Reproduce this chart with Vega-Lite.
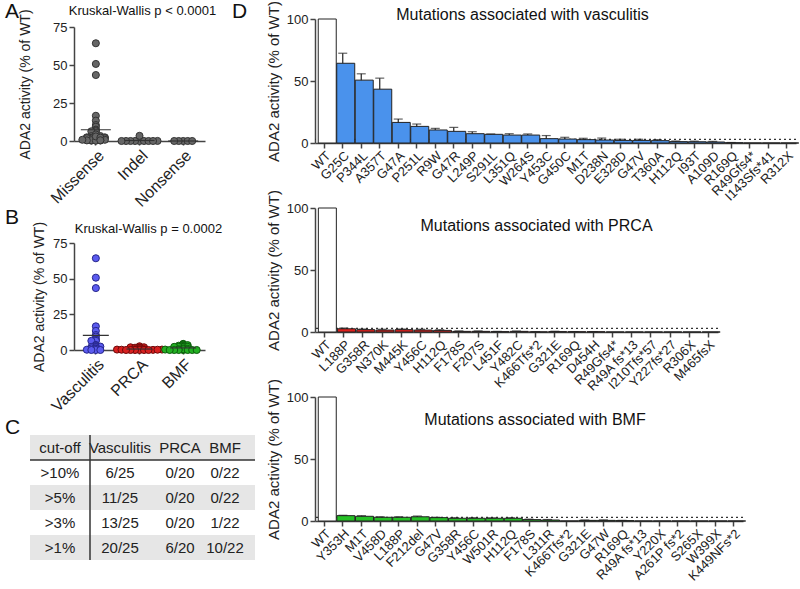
{
  "$schema": "https://vega.github.io/schema/vega-lite/v6.json",
  "padding": {"left": 5, "top": 0, "right": 0, "bottom": 0},
  "background": "white",
  "datasets": {
    "mut": [
      {"g": "Vasculitis", "m": "WT", "v": 100, "hi": null, "t": "WT"},
      {"g": "Vasculitis", "m": "G25C", "v": 64.3, "hi": 72.4, "t": "Missense"},
      {"g": "Vasculitis", "m": "P344L", "v": 50.7, "hi": 55.8, "t": "Missense"},
      {"g": "Vasculitis", "m": "A357T", "v": 43.4, "hi": 52.3, "t": "Missense"},
      {"g": "Vasculitis", "m": "G47A", "v": 16.6, "hi": 19.3, "t": "Missense"},
      {"g": "Vasculitis", "m": "P251L", "v": 13.4, "hi": 15.3, "t": "Missense"},
      {"g": "Vasculitis", "m": "R9W", "v": 10.5, "hi": 11.8, "t": "Missense"},
      {"g": "Vasculitis", "m": "G47R", "v": 9.4, "hi": 12.6, "t": "Missense"},
      {"g": "Vasculitis", "m": "L249P", "v": 7.5, "hi": 9.1, "t": "Missense"},
      {"g": "Vasculitis", "m": "S291L", "v": 7.0, "hi": 7.3, "t": "Missense"},
      {"g": "Vasculitis", "m": "L351Q", "v": 6.4, "hi": 7.5, "t": "Missense"},
      {"g": "Vasculitis", "m": "W264S", "v": 6.4, "hi": 7.3, "t": "Missense"},
      {"g": "Vasculitis", "m": "Y453C", "v": 3.5, "hi": 6.0, "t": "Missense"},
      {"g": "Vasculitis", "m": "G450C", "v": 3.2, "hi": 4.6, "t": "Missense"},
      {"g": "Vasculitis", "m": "M1T", "v": 2.7, "hi": 3.8, "t": "Missense"},
      {"g": "Vasculitis", "m": "D238N", "v": 2.4, "hi": 4.0, "t": "Missense"},
      {"g": "Vasculitis", "m": "E328D", "v": 2.1, "hi": 3.0, "t": "Missense"},
      {"g": "Vasculitis", "m": "G47V", "v": 2.1, "hi": 3.0, "t": "Missense"},
      {"g": "Vasculitis", "m": "T360A", "v": 1.9, "hi": 2.7, "t": "Missense"},
      {"g": "Vasculitis", "m": "H112Q", "v": 1.1, "hi": 1.6, "t": "Missense"},
      {"g": "Vasculitis", "m": "I93T", "v": 1.0, "hi": 1.5, "t": "Missense"},
      {"g": "Vasculitis", "m": "A109D", "v": 0.8, "hi": 1.3, "t": "Missense"},
      {"g": "Vasculitis", "m": "R169Q", "v": 0.2, "hi": 0.4, "t": "Missense"},
      {"g": "Vasculitis", "m": "R49Gfs4*", "v": 0, "hi": null, "t": "Indel"},
      {"g": "Vasculitis", "m": "I143Sfs*41", "v": 0, "hi": null, "t": "Indel"},
      {"g": "Vasculitis", "m": "R312X", "v": 0, "hi": null, "t": "Nonsense"},
      {"g": "PRCA", "m": "WT", "v": 100, "hi": null, "t": "WT"},
      {"g": "PRCA", "m": "L188P", "v": 2.6, "hi": 3.2, "t": "Missense"},
      {"g": "PRCA", "m": "G358R", "v": 1.9, "hi": 2.4, "t": "Missense"},
      {"g": "PRCA", "m": "N370K", "v": 1.6, "hi": 2.2, "t": "Missense"},
      {"g": "PRCA", "m": "M445K", "v": 1.9, "hi": 2.4, "t": "Missense"},
      {"g": "PRCA", "m": "Y456C", "v": 1.6, "hi": 2.2, "t": "Missense"},
      {"g": "PRCA", "m": "H112Q", "v": 1.3, "hi": 1.8, "t": "Missense"},
      {"g": "PRCA", "m": "F178S", "v": 0.5, "hi": 0.9, "t": "Missense"},
      {"g": "PRCA", "m": "F207S", "v": 0.5, "hi": 0.9, "t": "Missense"},
      {"g": "PRCA", "m": "L451F", "v": 0.3, "hi": 0.5, "t": "Missense"},
      {"g": "PRCA", "m": "Y482C", "v": 0.5, "hi": 0.8, "t": "Missense"},
      {"g": "PRCA", "m": "K466Tfs*2", "v": 0.1, "hi": 0.3, "t": "Indel"},
      {"g": "PRCA", "m": "G321E", "v": 0.3, "hi": 0.6, "t": "Missense"},
      {"g": "PRCA", "m": "R169Q", "v": 0.2, "hi": 0.4, "t": "Missense"},
      {"g": "PRCA", "m": "D454H", "v": 0.2, "hi": 0.3, "t": "Missense"},
      {"g": "PRCA", "m": "R49Gfs4*", "v": 0, "hi": null, "t": "Indel"},
      {"g": "PRCA", "m": "R49A fs*13", "v": 0, "hi": null, "t": "Indel"},
      {"g": "PRCA", "m": "I210Tfs*57", "v": 0, "hi": null, "t": "Indel"},
      {"g": "PRCA", "m": "Y227fs*27", "v": 0, "hi": null, "t": "Indel"},
      {"g": "PRCA", "m": "R306X", "v": 0, "hi": null, "t": "Nonsense"},
      {"g": "PRCA", "m": "M465fsX", "v": 0, "hi": null, "t": "Indel"},
      {"g": "BMF", "m": "WT", "v": 100, "hi": null, "t": "WT"},
      {"g": "BMF", "m": "Y353H", "v": 4.3, "hi": 4.6, "t": "Missense"},
      {"g": "BMF", "m": "M1T", "v": 3.8, "hi": 4.3, "t": "Missense"},
      {"g": "BMF", "m": "V458D", "v": 3.0, "hi": 3.4, "t": "Missense"},
      {"g": "BMF", "m": "L188P", "v": 3.0, "hi": 3.4, "t": "Missense"},
      {"g": "BMF", "m": "F212del", "v": 3.4, "hi": 4.0, "t": "Indel"},
      {"g": "BMF", "m": "G47V", "v": 2.7, "hi": 3.0, "t": "Missense"},
      {"g": "BMF", "m": "G358R", "v": 2.2, "hi": 2.6, "t": "Missense"},
      {"g": "BMF", "m": "Y456C", "v": 2.2, "hi": 2.6, "t": "Missense"},
      {"g": "BMF", "m": "W501R", "v": 2.2, "hi": 2.5, "t": "Missense"},
      {"g": "BMF", "m": "H112Q", "v": 2.2, "hi": 2.6, "t": "Missense"},
      {"g": "BMF", "m": "F178S", "v": 1.1, "hi": 1.5, "t": "Missense"},
      {"g": "BMF", "m": "L311R", "v": 0.8, "hi": 1.2, "t": "Missense"},
      {"g": "BMF", "m": "K466Tfs*2", "v": 0, "hi": null, "t": "Indel"},
      {"g": "BMF", "m": "G321E", "v": 0.5, "hi": 0.8, "t": "Missense"},
      {"g": "BMF", "m": "G47W", "v": 0.5, "hi": 0.9, "t": "Missense"},
      {"g": "BMF", "m": "R169Q", "v": 0.3, "hi": 0.5, "t": "Missense"},
      {"g": "BMF", "m": "R49A fs*13", "v": 0, "hi": null, "t": "Indel"},
      {"g": "BMF", "m": "Y220X", "v": 0, "hi": null, "t": "Nonsense"},
      {"g": "BMF", "m": "A261P fs*2", "v": 0, "hi": null, "t": "Indel"},
      {"g": "BMF", "m": "S265X", "v": 0, "hi": null, "t": "Nonsense"},
      {"g": "BMF", "m": "W399X", "v": 0, "hi": null, "t": "Nonsense"},
      {"g": "BMF", "m": "K449NFs*2", "v": 0, "hi": null, "t": "Indel"}
    ],
    "tbl": [
      {"row": "header", "col": "cut-off", "txt": "cut-off"},
      {"row": "header", "col": "Vasculitis", "txt": "Vasculitis"},
      {"row": "header", "col": "PRCA", "txt": "PRCA"},
      {"row": "header", "col": "BMF", "txt": "BMF"},
      {"row": ">10%", "col": "cut-off", "txt": ">10%"},
      {"row": ">10%", "col": "Vasculitis", "txt": "6/25"},
      {"row": ">10%", "col": "PRCA", "txt": "0/20"},
      {"row": ">10%", "col": "BMF", "txt": "0/22"},
      {"row": ">5%", "col": "cut-off", "txt": ">5%"},
      {"row": ">5%", "col": "Vasculitis", "txt": "11/25"},
      {"row": ">5%", "col": "PRCA", "txt": "0/20"},
      {"row": ">5%", "col": "BMF", "txt": "0/22"},
      {"row": ">3%", "col": "cut-off", "txt": ">3%"},
      {"row": ">3%", "col": "Vasculitis", "txt": "13/25"},
      {"row": ">3%", "col": "PRCA", "txt": "0/20"},
      {"row": ">3%", "col": "BMF", "txt": "1/22"},
      {"row": ">1%", "col": "cut-off", "txt": ">1%"},
      {"row": ">1%", "col": "Vasculitis", "txt": "20/25"},
      {"row": ">1%", "col": "PRCA", "txt": "6/20"},
      {"row": ">1%", "col": "BMF", "txt": "10/22"}
    ],
    "limit": [{"v": 3}]
  },
  "hconcat": [
    {
      "vconcat": [
        {
          "width": 131, "height": 9,
          "data": {"values": []},
          "mark": "point",
          "title": {"text": "A", "anchor": "start", "frame": "group", "fontSize": 21, "dx": -69, "offset": 0, "dy": 21, "baseline": "alphabetic"}
        },
        {
          "width": 131, "height": 114,
          "data": {"name": "mut"},
          "transform": [
            {"filter": "datum.t != 'WT'"},
            {"aggregate": [{"op": "mean", "field": "v", "as": "v"}], "groupby": ["m", "t"]}
          ],
          "title": {"text": "Kruskal-Wallis p < 0.0001", "fontSize": 13, "dx": 3, "offset": 6, "dy": 25, "baseline": "alphabetic"},
          "encoding": {
            "x": {"field": "t", "type": "nominal", "scale": {"domain": ["Missense", "Indel", "Nonsense"], "paddingInner": 0, "paddingOuter": 0},
                  "axis": {"title": null, "labelAngle": -45, "labelFontSize": 16, "tickSize": 4, "labelPadding": 2}},
            "y": {"field": "v", "type": "quantitative", "scale": {"domain": [0, 75], "nice": false},
                  "axis": {"values": [0, 25, 50, 75], "title": "ADA2 activity (% of WT)", "titleFontSize": 14, "labelFontSize": 13, "tickSize": 5, "titlePadding": 20}}
          },
          "layer": [
            {
              "transform": [
                {"bin": {"step": 0.5}, "field": "v", "as": "vb"},
                {"window": [{"op": "row_number", "as": "rank"}], "groupby": ["t", "vb"], "sort": [{"field": "v"}]}
              ],
              "mark": {"type": "point", "filled": true, "size": 50, "fill": "#666666", "stroke": "#333333", "strokeWidth": 1, "opacity": 1},
              "encoding": {
                "xOffset": {"field": "rank", "type": "ordinal", "scale": {"type": "point", "domain": [10, 8, 6, 4, 2, 1, 3, 5, 7, 9, 11], "range": [-0.65, 44.35], "padding": 0}}
              }
            },
            {
              "mark": {"type": "tick", "color": "#333333", "thickness": 1.2, "size": 30},
              "encoding": {"y": {"aggregate": "mean", "field": "v", "type": "quantitative"}}
            }
          ]
        },
        {
          "width": 131, "height": 102,
          "data": {"values": []},
          "mark": "point",
          "title": {"text": "B", "anchor": "start", "frame": "group", "fontSize": 21, "dx": -69, "offset": 0, "dy": 104, "baseline": "alphabetic"}
        },
        {
          "width": 131, "height": 107,
          "data": {"name": "mut"},
          "transform": [{"filter": "datum.t != 'WT'"}],
          "title": {"text": "Kruskal-Wallis p = 0.0002", "fontSize": 13, "dx": 9, "offset": 6, "dy": 31, "baseline": "alphabetic"},
          "encoding": {
            "x": {"field": "g", "type": "nominal", "scale": {"domain": ["Vasculitis", "PRCA", "BMF"], "paddingInner": 0, "paddingOuter": 0},
                  "axis": {"title": null, "labelAngle": -45, "labelFontSize": 16, "tickSize": 4, "labelPadding": 2}},
            "y": {"field": "v", "type": "quantitative", "scale": {"domain": [0, 75], "nice": false},
                  "axis": {"values": [0, 25, 50, 75], "title": "ADA2 activity (% of WT)", "titleFontSize": 14, "labelFontSize": 13, "tickSize": 5, "titlePadding": 6}}
          },
          "layer": [
            {
              "transform": [
                {"bin": {"step": 0.5}, "field": "v", "as": "vb"},
                {"window": [{"op": "row_number", "as": "rank"}], "groupby": ["g", "vb"], "sort": [{"field": "v"}]}
              ],
              "mark": {"type": "point", "filled": true, "size": 50, "strokeWidth": 1, "opacity": 1},
              "encoding": {
                "xOffset": {"field": "rank", "type": "ordinal", "scale": {"type": "point", "domain": [10, 8, 6, 4, 2, 1, 3, 5, 7, 9, 11], "range": [-0.65, 44.35], "padding": 0}},
                "fill": {"field": "g", "type": "nominal", "scale": {"domain": ["Vasculitis", "PRCA", "BMF"], "range": ["#5b5bef", "#d81f1f", "#22b022"]}, "legend": null},
                "stroke": {"field": "g", "type": "nominal", "scale": {"domain": ["Vasculitis", "PRCA", "BMF"], "range": ["#25258a", "#6e0a0a", "#0c5a0c"]}, "legend": null}
              }
            },
            {
              "mark": {"type": "tick", "color": "#333333", "thickness": 1.2, "size": 26},
              "encoding": {"y": {"aggregate": "mean", "field": "v", "type": "quantitative"}}
            }
          ]
        },
        {
          "width": 131, "height": 85,
          "data": {"values": []},
          "mark": "point"
        },
        {
          "width": 131, "height": 125,
          "data": {"name": "tbl"},
          "title": {"text": "C", "anchor": "start", "frame": "group", "fontSize": 21, "dx": -69, "offset": 0, "dy": 21, "baseline": "alphabetic"},
          "layer": [
            {
              "transform": [{"filter": "datum.col == 'cut-off' && (datum.row == 'header' || datum.row == '>5%' || datum.row == '>1%')"}],
              "mark": {"type": "rect", "color": "#e6e6e6"},
              "encoding": {
                "x": {"datum": "start", "type": "nominal", "scale": {"type": "point", "domain": ["start", "_a", "cut-off", "_b", "|", "_c", "Vasculitis", "_d", "_e", "_f", "PRCA", "_g", "_h", "BMF", "_i", "end"], "range": [-44, 181], "padding": 0}, "axis": null},
                "x2": {"datum": "end"},
                "y": {"field": "row", "type": "nominal", "scale": {"domain": ["header", ">10%", ">5%", ">3%", ">1%"], "paddingInner": 0, "paddingOuter": 0}, "axis": null}
              }
            },
            {
              "mark": {"type": "text", "fontSize": 15, "color": "#222222"},
              "encoding": {
                "x": {"field": "col", "type": "nominal"},
                "y": {"field": "row", "type": "nominal"},
                "text": {"field": "txt"}
              }
            },
            {
              "data": {"values": [{}]},
              "mark": {"type": "rule", "color": "#333333", "strokeWidth": 1.5},
              "encoding": {
                "x": {"datum": "start", "type": "nominal"},
                "x2": {"datum": "end"},
                "y": {"datum": "header", "type": "nominal", "bandPosition": 1}
              }
            },
            {
              "data": {"values": [{}]},
              "mark": {"type": "rule", "color": "#333333", "strokeWidth": 1.5},
              "encoding": {
                "x": {"datum": "|", "type": "nominal"}
              }
            }
          ]
        }
      ],
      "spacing": 0,
      "bounds": "flush"
    },
    {
      "vconcat": [
        {
          "width": 481, "height": 1,
          "data": {"values": []},
          "mark": "point",
          "title": {"text": "D", "anchor": "start", "frame": "group", "fontSize": 21, "dx": -83, "offset": 0, "dy": 21, "baseline": "alphabetic"}
        },
        {
          "width": 481, "height": 124,
          "title": {"text": "Mutations associated with vasculitis", "fontSize": 16, "dx": -33, "offset": 0, "dy": 35, "baseline": "alphabetic"},
          "encoding": {
            "y": {"field": "v", "type": "quantitative", "scale": {"domain": [0, 100], "nice": false},
                  "axis": {"values": [0, 25, 50, 75, 100], "title": "ADA2 activity (% of WT)", "titleFontSize": 15, "labelFontSize": 13, "tickSize": 5, "titlePadding": 5}}
          },
          "layer": [
            {"data": {"name": "limit"}, "mark": {"type": "rule", "strokeDash": [2, 3], "color": "#333333", "strokeWidth": 1.2}},
            {
              "data": {"name": "mut"}, "transform": [{"filter": "datum.g == 'Vasculitis'"}],
              "mark": {"type": "bar", "stroke": "#222222", "strokeWidth": 1},
              "encoding": {
                "x": {"field": "m", "type": "nominal", "sort": null, "scale": {"paddingInner": 0.35, "paddingOuter": 0.175}, "axis": {"title": null, "labelAngle": -45, "labelFontSize": 13, "tickSize": 5, "labelPadding": 1}},
                "fill": {"condition": {"test": "datum.m == 'WT'", "value": "white"}, "value": "#4a92ec"}
              }
            },
            {
              "data": {"name": "mut"}, "transform": [{"filter": "datum.g == 'Vasculitis' && isValid(datum.hi)"}],
              "mark": {"type": "rule", "color": "#222222", "strokeWidth": 1.2},
              "encoding": {"x": {"field": "m", "type": "nominal", "sort": null}, "y2": {"field": "hi"}}
            },
            {
              "data": {"name": "mut"}, "transform": [{"filter": "datum.g == 'Vasculitis' && isValid(datum.hi)"}],
              "mark": {"type": "tick", "color": "#222222", "thickness": 1.2, "size": 9},
              "encoding": {"x": {"field": "m", "type": "nominal", "sort": null}, "y": {"field": "hi", "type": "quantitative", "axis": {"title": "ADA2 activity (% of WT)"}}}
            }
          ]
        },
        {
          "width": 481, "height": 65,
          "data": {"values": []},
          "mark": "point"
        },
        {
          "width": 403, "height": 124,
          "title": {"text": "Mutations associated with PRCA", "fontSize": 16, "dx": 20, "offset": -23, "dy": 34, "baseline": "alphabetic"},
          "encoding": {
            "y": {"field": "v", "type": "quantitative", "scale": {"domain": [0, 100], "nice": false},
                  "axis": {"values": [0, 25, 50, 75, 100], "title": "ADA2 activity (% of WT)", "titleFontSize": 15, "labelFontSize": 13, "tickSize": 5, "titlePadding": 5}}
          },
          "layer": [
            {"data": {"name": "limit"}, "mark": {"type": "rule", "strokeDash": [2, 3], "color": "#333333", "strokeWidth": 1.2}},
            {
              "data": {"name": "mut"}, "transform": [{"filter": "datum.g == 'PRCA'"}],
              "mark": {"type": "bar", "stroke": "#222222", "strokeWidth": 1},
              "encoding": {
                "x": {"field": "m", "type": "nominal", "sort": null, "scale": {"paddingInner": 0.35, "paddingOuter": 0.175}, "axis": {"title": null, "labelAngle": -45, "labelFontSize": 13, "tickSize": 5, "labelPadding": 1}},
                "fill": {"condition": {"test": "datum.m == 'WT'", "value": "white"}, "value": "#e0201c"}
              }
            },
            {
              "data": {"name": "mut"}, "transform": [{"filter": "datum.g == 'PRCA' && isValid(datum.hi)"}],
              "mark": {"type": "rule", "color": "#222222", "strokeWidth": 1.2},
              "encoding": {"x": {"field": "m", "type": "nominal", "sort": null}, "y2": {"field": "hi"}}
            },
            {
              "data": {"name": "mut"}, "transform": [{"filter": "datum.g == 'PRCA' && isValid(datum.hi)"}],
              "mark": {"type": "tick", "color": "#222222", "thickness": 1.2, "size": 9},
              "encoding": {"x": {"field": "m", "type": "nominal", "sort": null}, "y": {"field": "hi", "type": "quantitative", "axis": {"title": "ADA2 activity (% of WT)"}}}
            }
          ]
        },
        {
          "width": 403, "height": 65,
          "data": {"values": []},
          "mark": "point"
        },
        {
          "width": 428, "height": 124,
          "title": {"text": "Mutations associated with BMF", "fontSize": 16, "dx": 6, "offset": -28, "dy": 34, "baseline": "alphabetic"},
          "encoding": {
            "y": {"field": "v", "type": "quantitative", "scale": {"domain": [0, 100], "nice": false},
                  "axis": {"values": [0, 25, 50, 75, 100], "title": "ADA2 activity (% of WT)", "titleFontSize": 15, "labelFontSize": 13, "tickSize": 5, "titlePadding": 5}}
          },
          "layer": [
            {"data": {"name": "limit"}, "mark": {"type": "rule", "strokeDash": [2, 3], "color": "#333333", "strokeWidth": 1.2}},
            {
              "data": {"name": "mut"}, "transform": [{"filter": "datum.g == 'BMF'"}],
              "mark": {"type": "bar", "stroke": "#222222", "strokeWidth": 1},
              "encoding": {
                "x": {"field": "m", "type": "nominal", "sort": null, "scale": {"paddingInner": 0.35, "paddingOuter": 0.175}, "axis": {"title": null, "labelAngle": -45, "labelFontSize": 13, "tickSize": 5, "labelPadding": 1}},
                "fill": {"condition": {"test": "datum.m == 'WT'", "value": "white"}, "value": "#25c025"}
              }
            },
            {
              "data": {"name": "mut"}, "transform": [{"filter": "datum.g == 'BMF' && isValid(datum.hi)"}],
              "mark": {"type": "rule", "color": "#222222", "strokeWidth": 1.2},
              "encoding": {"x": {"field": "m", "type": "nominal", "sort": null}, "y2": {"field": "hi"}}
            },
            {
              "data": {"name": "mut"}, "transform": [{"filter": "datum.g == 'BMF' && isValid(datum.hi)"}],
              "mark": {"type": "tick", "color": "#222222", "thickness": 1.2, "size": 9},
              "encoding": {"x": {"field": "m", "type": "nominal", "sort": null}, "y": {"field": "hi", "type": "quantitative", "axis": {"title": "ADA2 activity (% of WT)"}}}
            }
          ]
        }
      ],
      "spacing": 0,
      "bounds": "flush"
    }
  ],
  "spacing": 241,
  "bounds": "flush",
  "config": {
    "view": {"stroke": null},
    "font": "Liberation Sans",
    "axis": {"domainColor": "#444444", "domainWidth": 1.5, "tickColor": "#444444", "tickWidth": 1.5, "labelColor": "#222222", "titleColor": "#222222", "labelFont": "Liberation Sans", "titleFont": "Liberation Sans", "titleFontWeight": "normal", "grid": false},
    "title": {"font": "Liberation Sans", "fontWeight": "normal", "color": "#111111"},
    "text": {"font": "Liberation Sans"}
  }
}
